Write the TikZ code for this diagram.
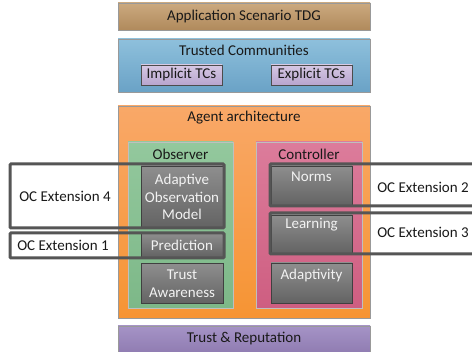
\documentclass[tikz,border=0pt]{standalone}
\usepackage{fontspec}
\setmainfont{Carlito}
\definecolor{appTop}{HTML}{CBA97F}
\definecolor{appBot}{HTML}{B08A5C}
\definecolor{tcTop}{HTML}{8EC0DC}
\definecolor{tcBot}{HTML}{6AA2C6}
\definecolor{tcsTop}{HTML}{D6C8E4}
\definecolor{tcsBot}{HTML}{B8A5CE}
\definecolor{agTop}{HTML}{F9A868}
\definecolor{agBot}{HTML}{F69433}
\definecolor{obTop}{HTML}{93C89D}
\definecolor{obBot}{HTML}{7DB888}
\definecolor{ctTop}{HTML}{DC7C9B}
\definecolor{ctBot}{HTML}{CE5E81}
\definecolor{modTop}{HTML}{8E8E8E}
\definecolor{modBot}{HTML}{636363}
\definecolor{trTop}{HTML}{A593C6}
\definecolor{trBot}{HTML}{8A76AC}
\definecolor{frameGray}{HTML}{555555}
\begin{document}
\begin{tikzpicture}[x=1pt,y=-1pt,
  txt/.style={font=\fontsize{15}{17.5}\selectfont, text=black!90, inner sep=0pt, align=center},
  layer/.style={draw=black!40, line width=0.6pt, inner sep=0pt, outer sep=0pt, minimum width=252pt},
  tcsub/.style={draw=black!70, line width=0.8pt, top color=tcsTop, bottom color=tcsBot, inner sep=0pt,
    minimum width=81pt, minimum height=20pt, txt},
  part/.style={draw=black!25, line width=0.5pt, inner sep=0pt, minimum height=166pt},
  module/.style={draw=black!75, line width=0.8pt, top color=modTop, bottom color=modBot, inner sep=0pt,
    minimum width=82pt},
  modtxt/.style={txt, text=white!95!black},
  extframe/.style={draw=frameGray, line width=3pt, rounded corners=1pt, inner sep=0pt},
]
\useasboundingbox (0,0) rectangle (472,352);
\clip (0,0) rectangle (472,352);

% application layer
\node[layer, top color=appTop, bottom color=appBot, minimum height=27pt, txt] (app) at (244,16.5) {Application Scenario TDG};

% trusted communities
\node[layer, top color=tcTop, bottom color=tcBot, minimum height=53pt] (tc) at (244,65.5) {};
\node[txt] (tcTitle) at (244,50) {Trusted Communities};
\node[tcsub] (implicit) at (181.5,75) {Implicit TCs};
\node[tcsub] (explicit) at (311.5,75) {Explicit TCs};

% agent architecture
\node[layer, top color=agTop, bottom color=agBot, minimum height=212pt] (agent) at (244,212) {};
\node[txt] (agentTitle) at (244,118) {Agent architecture};

\node[part, top color=obTop, bottom color=obBot, minimum width=105pt] (observer) at (180.5,225) {};
\node[txt] (obsTitle) at (180.5,154) {Observer};
\node[part, top color=ctTop, bottom color=ctBot, minimum width=106pt] (controller) at (309,225) {};
\node[txt] (ctrlTitle) at (309,154) {Controller};

% observer modules
\node[module, minimum height=62pt, modtxt] (aom) at (182,197) {Adaptive\\Observation\\Model};
\node[module, minimum height=24pt, modtxt] (prediction) at (182,245) {Prediction};
\node[module, minimum height=40pt, modtxt] (awareness) at (182,283.5) {Trust\\Awareness};

% controller modules
\node[module, minimum width=81pt, minimum height=39pt] (norms) at (311.5,185.5) {};
\node[modtxt] (normsT) at (311.5,177) {Norms};
\node[module, minimum width=81pt, minimum height=38pt] (learning) at (311.5,234) {};
\node[modtxt] (learningT) at (311.5,225) {Learning};
\node[module, minimum width=81pt, minimum height=40pt] (adaptivity) at (311.5,283) {};
\node[modtxt] (adaptivityT) at (311.5,276) {Adaptivity};

% trust and reputation
\node[layer, top color=trTop, bottom color=trBot, minimum height=34pt] (trust) at (244,343) {};
\node[txt] (trustT) at (244,338.5) {Trust \& Reputation};

% organic computing extensions
\node[extframe, minimum width=214pt, minimum height=64pt] (ext4) at (117,196) {};
\node[txt] (ext4T) at (65,196) {OC Extension 4};
\node[extframe, minimum width=214pt, minimum height=25pt] (ext1) at (117,245.5) {};
\node[txt] (ext1T) at (63,245) {OC Extension 1};
\node[extframe, minimum width=212pt, minimum height=42pt] (ext2) at (376,185) {};
\node[txt] (ext2T) at (423,187) {OC Extension 2};
\node[extframe, minimum width=212pt, minimum height=41pt] (ext3) at (376,233.5) {};
\node[txt] (ext3T) at (423,232) {OC Extension 3};
\end{tikzpicture}
\end{document}
